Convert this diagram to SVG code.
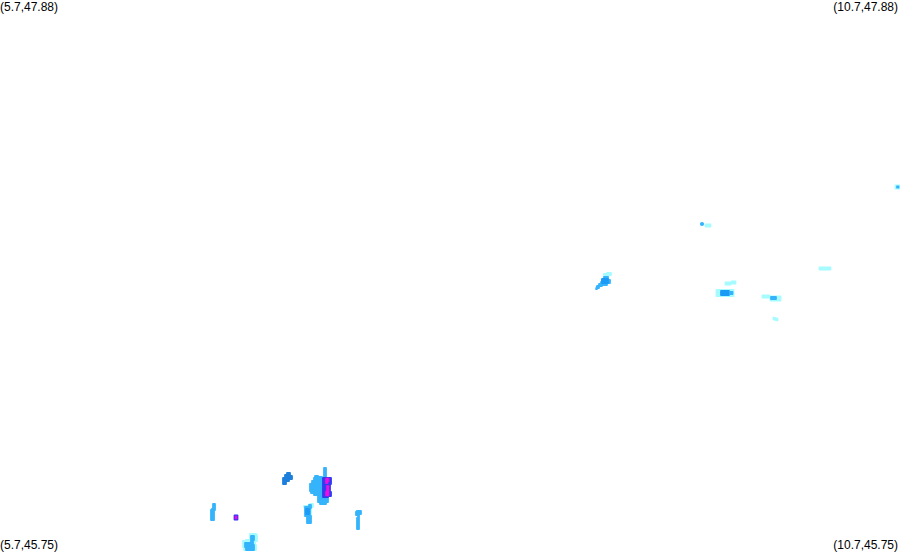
<svg xmlns="http://www.w3.org/2000/svg" width="900" height="552" viewBox="0 0 900 552">
<style>
text{font-family:"Liberation Sans",Arial,sans-serif;font-size:12px;fill:#000}
path,circle{stroke-linejoin:round;stroke-width:1.8}
.c{fill:#a6fbff;stroke:#a6fbff}.l{fill:#36b4fb;stroke:#36b4fb}.m{fill:#1f9bf6;stroke:#1f9bf6}.d{fill:#1f7fdc;stroke:#1f7fdc}.b{fill:#2e3cf0;stroke:#2e3cf0}.p{fill:#f008e0;stroke:#f008e0;stroke-width:.6}
</style>
<defs><filter id="s" filterUnits="userSpaceOnUse" x="0" y="0" width="900" height="552"><feGaussianBlur stdDeviation="0.6"/></filter></defs>
<rect width="900" height="552" fill="#fff"/>
<g id="labels">
<text x="0" y="11">(5.7,47.88)</text>
<text x="898" y="11" text-anchor="end">(10.7,47.88)</text>
<text x="0" y="549">(5.7,45.75)</text>
<text x="898" y="549" text-anchor="end">(10.7,45.75)</text>
</g>
<g id="south" filter="url(#s)">
<path class="d" d="M283 478h2v-3h2v-2h3v3h2v3h-3v2h-3v3h-3z"/>
<path class="l" d="M324 468h2v10h-2z"/>
<path class="l" d="M315 476h3v1h4v18h-8v-2h-3v-2h-1v-7h2v-3h2v-3h1z"/>
<path class="l" d="M318 495h10v7h-2v2h-6v-2h-2z"/>
<path class="b" d="M323 478h8v6h-1v8h1v4h-3v1h-5z"/>
<path class="p" d="M325.500 478h3.500v4h-1v1.500h-2.500zM326.500 485.500h2.500v10.500h-3.500v-5h1z"/>
<path class="l" d="M212 509h1v-5h2v6h-1v10h-3v-10z"/>
<path class="b" d="M234.500 515.500h3v4h-3z"/>
<path class="p" d="M235 516h2v3h-2z"/>
<path class="c" d="M250 534h6v1h1v6h-2v4h1v5h-12v-3h-1v-6h3v-1h4z"/>
<path class="l" d="M251 536h3v4h-1v5h1v5h-8v-3h-1v-4h6z"/>
<path class="c" d="M310 504h3v3h-2v8h-1v-8h-6v-1h5z"/>
<path class="l" d="M305 507h4v-2h2v3h-1v8h1v7h-4v-7h-2v-8z"/>
<path class="m" d="M306 509h3v5h-3z"/>
<path class="l" d="M357 511h4v3h-2v15h-2v-11h1v-3h-2v-3z"/>
</g>
<g id="north" filter="url(#s)">
<path class="c" d="M604 274h3v-1h4v2h-3v2h-4z"/>
<path class="l" d="M597 286h2v-2h2v-2h1v-2h2v-3h4v3h2v3h-3v2h-5v1h-3v2h-2v1h-1z"/>
<path class="m" d="M602 279h6v4h-6z"/>
<circle class="l" cx="702" cy="224" r="1.200"/>
<path class="c" d="M705.500 224.500h5v2h-5z"/>
<path class="c" d="M725.500 282.500h5v2h-5z"/>
<path class="c" d="M731.500 281.500h4v2h-4z"/>
<path class="c" d="M716.500 290h17v6h-17z"/>
<path class="m" d="M721 291h8v4h-8z"/>
<path class="l" d="M730 292h2.500v2h-2.500z"/>
<path class="c" d="M762.500 295.500h7v2h-7z"/>
<path class="c" d="M770.500 296.500h10v4h-10z"/>
<path class="l" d="M771 297h5v2h-5z"/>
<path class="c" d="M773.500 317.500l4 1v2l-4-1z"/>
<path class="c" d="M819.500 267.500h11v2h-11z"/>
<path class="c" d="M895.500 185.500h4v3h-4z"/>
<path class="l" d="M897 186.500h1.500v1h-1.500z"/>
</g>
</svg>
